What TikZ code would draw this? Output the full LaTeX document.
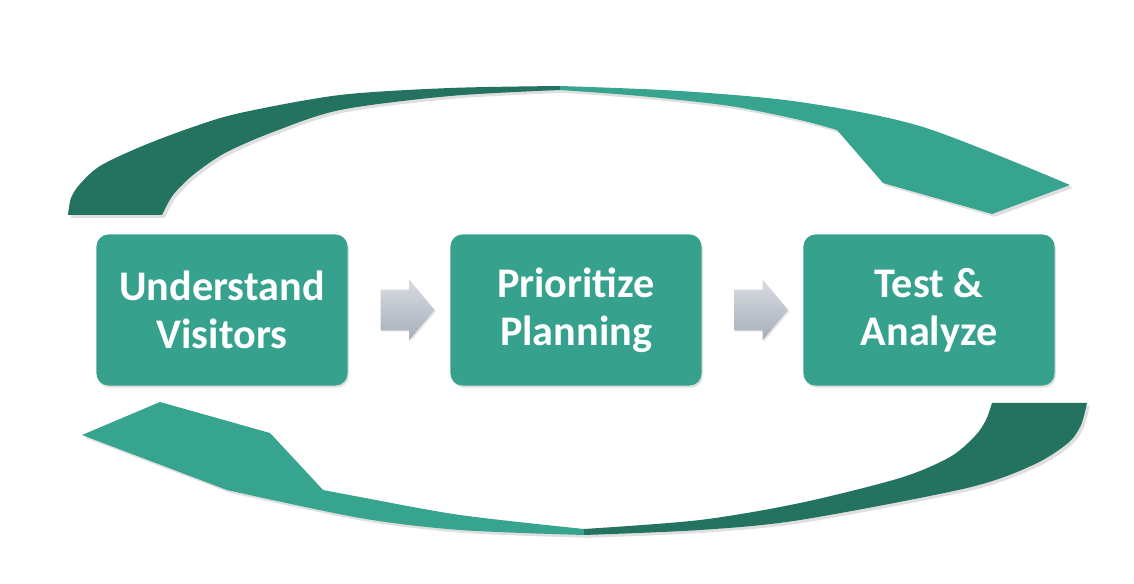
\documentclass[tikz,border=0pt]{standalone}
\usepackage{fontspec}
\setmainfont{Carlito}
\usepackage{xcolor}
\usetikzlibrary{shapes.arrows, shadows, calc}
\definecolor{stageteal}{RGB}{54,162,141}
\definecolor{arcdark}{RGB}{36,114,96}
\definecolor{arclight}{RGB}{54,164,142}
\definecolor{arrowtop}{RGB}{216,220,226}
\definecolor{arrowbot}{RGB}{166,174,186}
\begin{document}
\begin{tikzpicture}
      [x=0.025cm, y=-0.025cm,
       stage/.style={rectangle, rounded corners=0.3cm, fill=stageteal,
         minimum width=6.275cm, minimum height=3.775cm, inner sep=0pt,
         text=white, align=center, font=\fontsize{30}{34}\selectfont\bfseries,
         drop shadow={opacity=0.25, shadow xshift=1pt, shadow yshift=-1.5pt}},
       flow/.style={single arrow, inner xsep=0pt, inner ysep=0.5cm, minimum height=1.35cm,
         single arrow head extend=0.25cm,
         single arrow tip angle=100, top color=arrowtop, bottom color=arrowbot,
         drop shadow={opacity=0.2, shadow xshift=1pt, shadow yshift=-1pt}},
       band/.style={drop shadow={opacity=0.25, shadow xshift=2pt, shadow yshift=-2pt}}]
        \useasboundingbox (0,0) rectangle (1134,584);

        \path[band, fill=arcdark] plot[smooth] coordinates {(68,215) (71,198) (80,184) (100,166) (140,147) (190,128) (240,113) (340,95) (450,88) (560,86)}
          -- plot[smooth] coordinates {(560,90) (450,96) (340,110) (273,132) (225,153) (193,175) (173,195) (162,215)} -- cycle;
        \path[band, fill=arclight] plot[smooth] coordinates {(560,86) (680,91) (800,102) (923,127) (1070,185)}
          -- (992,214) -- (883,183) -- (837,130)
          -- plot[smooth] coordinates {(837,130) (800,120) (730,106) (640,96) (560,90)} -- cycle;

        \path[band, fill=arclight] (82,435) -- (160,402) -- (270,433) -- (323,490)
          -- plot[smooth] coordinates {(323,490) (360,497) (460,515) (584,529)}
          -- plot[smooth] coordinates {(584,535) (460,530) (360,518) (227,490)} -- cycle;
        \path[band, fill=arcdark] plot[smooth] coordinates {(584,529) (700,520) (800,503) (900,478) (950,457) (975,436) (986,420) (992,403)}
          -- (1087,403)
          -- plot[smooth] coordinates {(1087,403) (1081,425) (1068,443) (1033,465) (967,488) (800,520) (700,530) (584,535)} -- cycle;

        \node (U) at (222,310) [stage] {Understand\\Visitors};
        \node (P) at (576,310) [stage] {Prioritize\\Planning};
        \node (T) at (929,310) [stage] {Test \&\\Analyze};

        \node (A1) at ($(U.east)!0.5!(P.west)$) [flow] {};
        \node (A2) at ($(P.east)!0.5!(T.west)$) [flow] {};
      \end{tikzpicture}
\end{document}
